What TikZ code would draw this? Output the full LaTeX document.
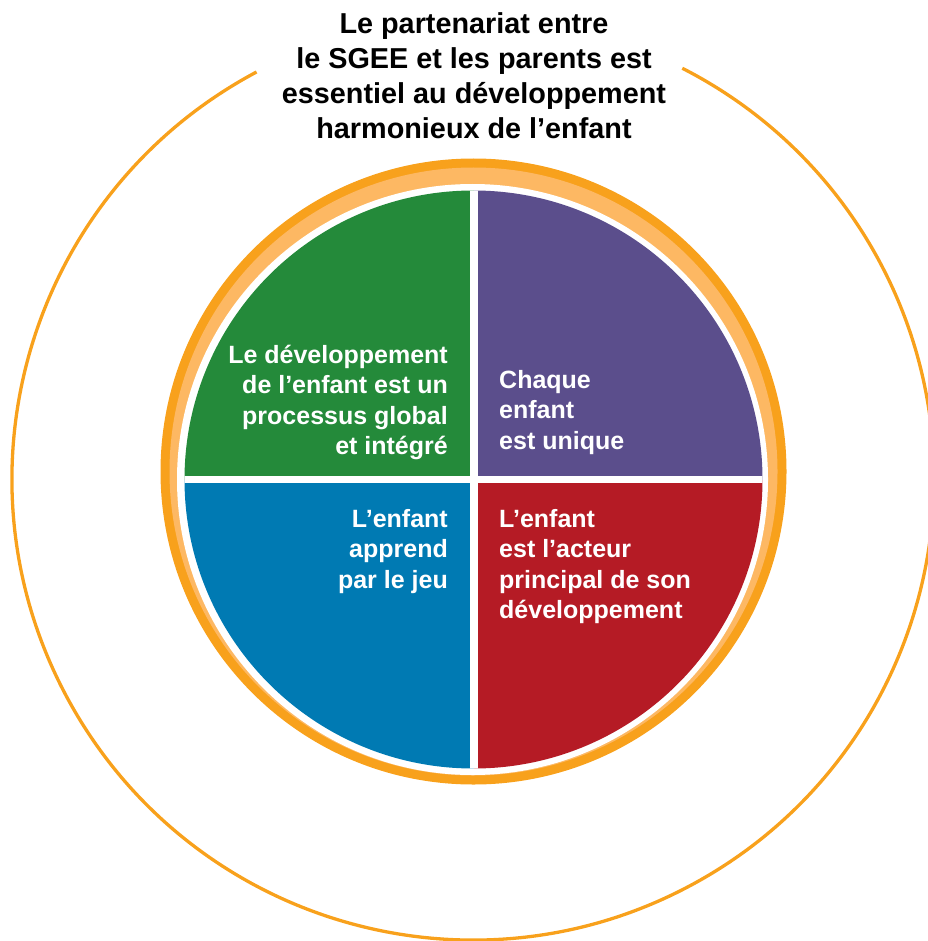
\documentclass[tikz,border=0pt]{standalone}
\usepackage{fontspec}
\setmainfont{Liberation Sans}
\definecolor{orD}{HTML}{F8A11C}
\definecolor{orL}{HTML}{FDB863}
\definecolor{qgreen}{HTML}{248A3A}
\definecolor{qpurple}{HTML}{5B4E8C}
\definecolor{qblue}{HTML}{007AB3}
\definecolor{qred}{HTML}{B51B25}
\tikzset{
  titletext/.style={inner sep=0pt, align=center, font=\bfseries\fontsize{28.8}{35}\selectfont, text=black},
  quadtextR/.style={inner sep=0pt, align=right, font=\bfseries\fontsize{25}{30.5}\selectfont, text=white},
  quadtextL/.style={inner sep=0pt, align=left, font=\bfseries\fontsize{25}{30.5}\selectfont, text=white},
}
\begin{document}
\begin{tikzpicture}[x=1pt,y=-1pt]
\useasboundingbox (0,0) rectangle (927,941);
% outer circle with gap for the title
\coordinate (oc) at (473,479);
\draw[orD, line width=3.3pt] (oc) ++(-118:461) arc[start angle=-118, end angle=-423, radius=461];
% orange ring
\coordinate (rc) at (473.5,471.5);
\fill[orD] (rc) circle (313);
\fill[orL] (rc) circle (304);
\coordinate (wc) at (472.5,479.5);
\fill[white] (wc) circle (295.5);
% pie
\coordinate (c) at (473.5,479.5);
\begin{scope}
  \clip (c) circle (289);
  \fill[qgreen] (c) rectangle ++(-300,-300);
  \fill[qpurple] (c) rectangle ++(300,-300);
  \fill[qblue] (c) rectangle ++(-300,300);
  \fill[qred] (c) rectangle ++(300,300);
  \draw[white, line width=8pt] (c) ++(0,-300) -- ++(0,600);
  \draw[white, line width=7pt] (c) ++(-300,0) -- ++(600,0);
\end{scope}
% title
\node[titletext, anchor=north] (title) at (474,12) {Le partenariat entre\\le SGEE et les parents est\\essentiel au développement\\harmonieux de l’enfant};
% quadrant texts
\node[quadtextR, anchor=north east] (tgreen) at (448,344.5) {Le développement\\de l’enfant est un\\processus global\\et intégré};
\node[quadtextL, anchor=north west] (tpurple) at (499,370) {Chaque\\enfant\\est unique};
\node[quadtextR, anchor=north east] (tblue) at (448,509) {L’enfant\\apprend\\par le jeu};
\node[quadtextL, anchor=north west] (tred) at (499,509) {L’enfant\\est l’acteur\\principal de son\\développement};
\end{tikzpicture}
\end{document}
